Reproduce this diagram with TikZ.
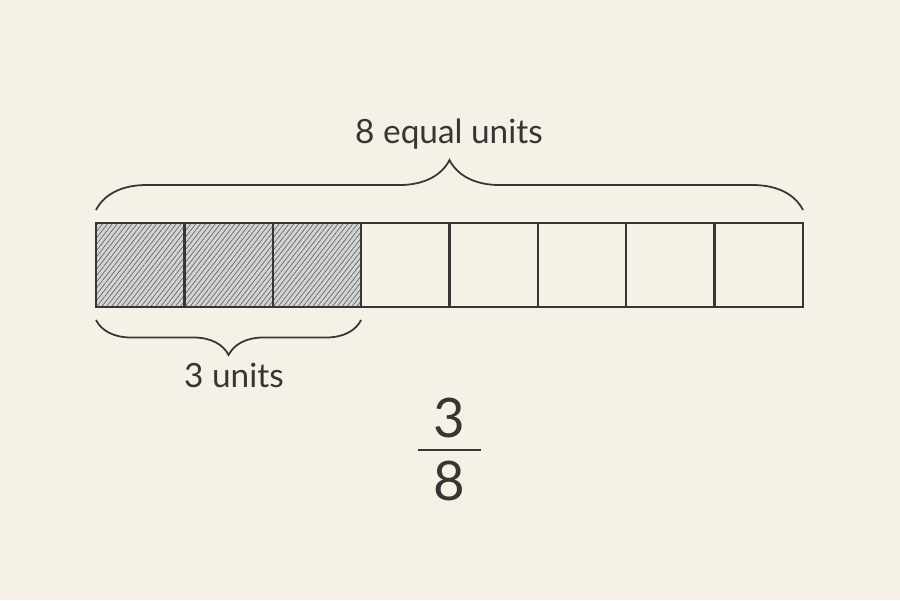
\documentclass[tikz,border=0pt]{standalone}
\usepackage{fontspec}
\setmainfont{Lato}
\usetikzlibrary{decorations.pathreplacing,patterns.meta}
\definecolor{paper}{HTML}{F5F1E7}
\definecolor{pencil}{HTML}{363636}
\tikzset{
  cell/.style={draw=pencil, line width=1.3pt, minimum width=1.7675cm, minimum height=1.68cm, inner sep=0pt, outer sep=0pt},
  shaded/.style={cell, pattern={Lines[angle=52,distance=2.2pt,line width=0.4pt]}, pattern color=black!60},
  brace/.style={decorate, decoration={brace, amplitude=#1}, draw=pencil, line width=1pt},
  label/.style={text=pencil, font=\fontsize{19}{22}\selectfont},
  digit/.style={text=pencil, font=\fontsize{31}{35}\selectfont}
}
\begin{document}
\begin{tikzpicture}[x=0.02cm, y=-0.02cm]
\useasboundingbox[fill=paper] (0,0) rectangle (900,600);
% the bar
\foreach \i in {1,2,3}
  \node[cell, fill=black!17] (back\i) at ({96+88.375*(\i-0.5)},265) {};
\foreach \i in {1,2,3}
  \node[shaded] (cell\i) at ({96+88.375*(\i-0.5)},265) {};
\foreach \i in {4,...,8}
  \node[cell] (cell\i) at ({96+88.375*(\i-0.5)},265) {};
% braces
\draw[brace=1cm] ([yshift=0.26cm]cell1.north west) -- ([yshift=0.26cm]cell8.north east);
\draw[brace=0.7cm] ([yshift=-0.26cm]cell3.south east) -- ([yshift=-0.26cm]cell1.south west);
\node[label] (total) at (449,134) {8 equal units};
\node[label] (part) at (234,375) {3 units};
% the fraction
\node[digit] (num) at (449,418) {3};
\node[digit] (den) at (449,481) {8};
\coordinate (barL) at (418,450);
\coordinate (barR) at (481,450);
\draw[pencil, line width=1.5pt] (barL) -- (barR);
\end{tikzpicture}
\end{document}
